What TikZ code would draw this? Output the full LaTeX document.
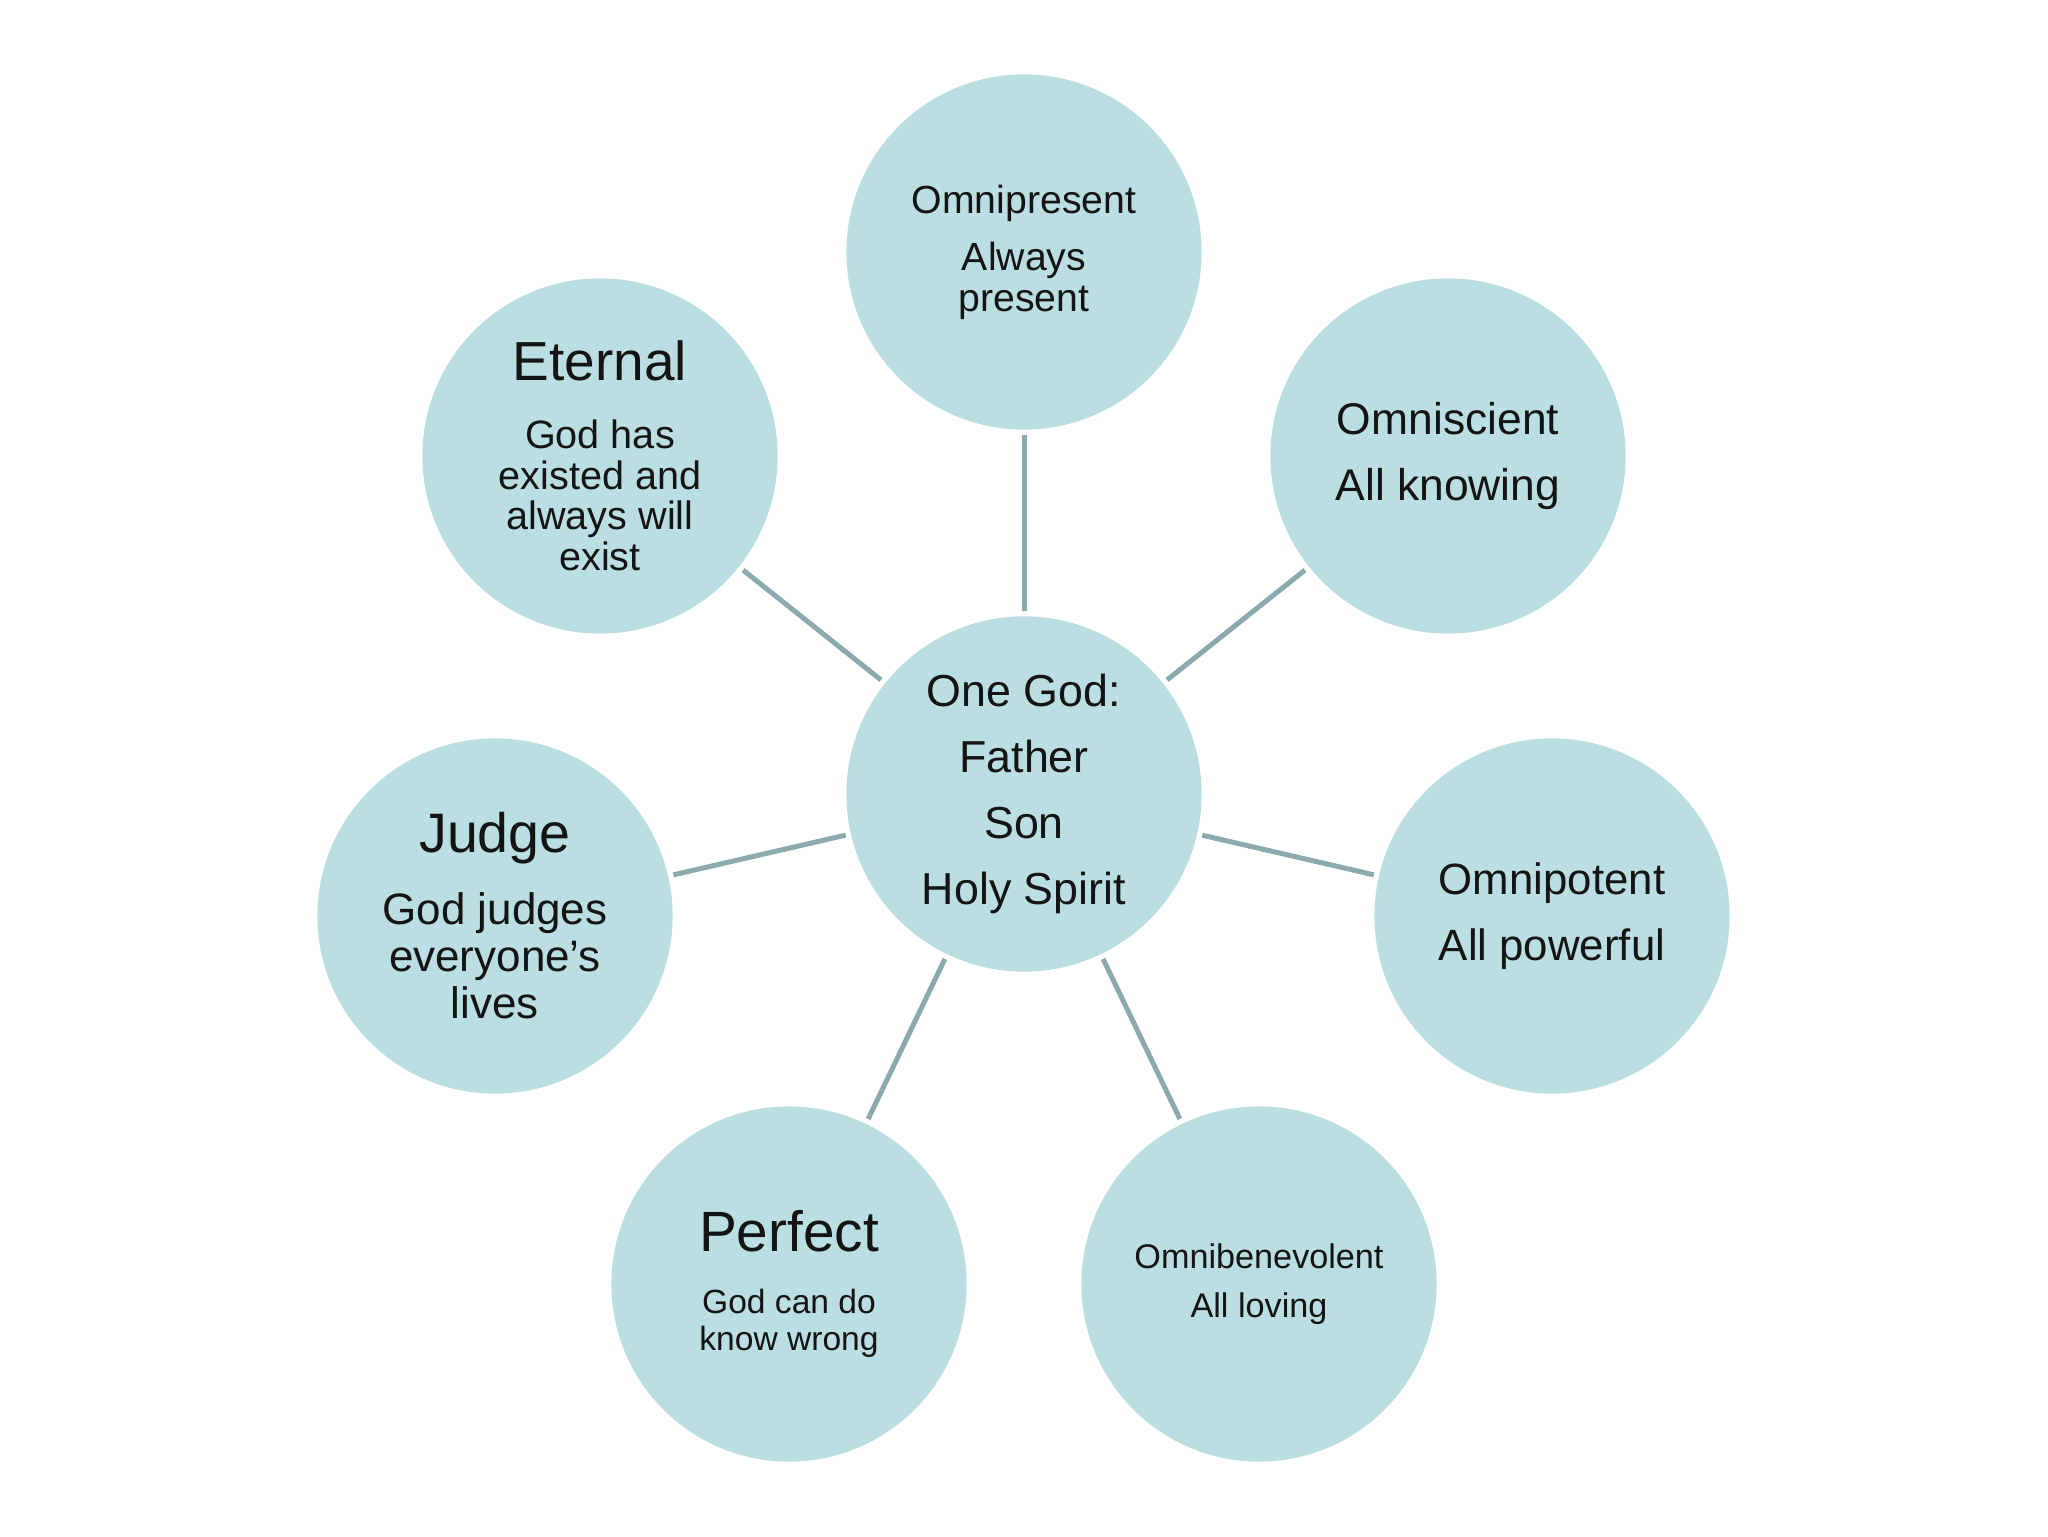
\documentclass[tikz,border=0pt]{standalone}
\usepackage{fontspec}
\setmainfont{Liberation Sans}
\definecolor{bubblefill}{RGB}{186,222,225}
\definecolor{linkcol}{RGB}{138,170,173}
\definecolor{txt}{RGB}{20,20,20}
\newcommand{\fs}[2]{\fontsize{#1}{#2}\selectfont}
\begin{document}
\begin{tikzpicture}[x=0.5pt,y=-0.5pt,
  bubble/.style={circle,fill=bubblefill,minimum size=177.6pt,inner sep=0pt,
    align=center,text=txt},
  link/.style={draw=linkcol,line width=2.5pt,shorten >=2.5pt,shorten <=2.5pt}]
\useasboundingbox (0,0) rectangle (2048,1536);
\fill[white] (0,0) rectangle (2048,1536);

\node[bubble,font=\fs{22.4pt}{33.1pt}] (god) at (1024,794)
  {One God:\\Father\\Son\\Holy Spirit};

\node[bubble,font=\fs{19.6pt}{20.25pt}] (pres) at (1024,252)
  {Omnipresent\\[8.5pt]Always\\present};

\node[bubble,font=\fs{19.8pt}{20.3pt}] (eternal) at (600,456)
  {{\fs{27.5pt}{30pt}Eternal}\\[13.6pt]God has\\existed and\\always will\\exist};

\node[bubble,font=\fs{22.2pt}{33pt}] (sci) at (1448,456)
  {Omniscient\\All knowing};

\node[bubble,font=\fs{22pt}{23.5pt}] (judge) at (495,916)
  {{\fs{27.8pt}{30pt}Judge}\\[12.5pt]God judges\\everyone’s\\lives};

\node[bubble,font=\fs{21.9pt}{33pt}] (pot) at (1552,916)
  {Omnipotent\\All powerful};

\node[bubble,font=\fs{16.8pt}{18.3pt}] (perfect) at (789,1284)
  {{\fs{28.4pt}{30pt}Perfect}\\[12.7pt]God can do\\know wrong};

\node[bubble,font=\fs{17.1pt}{24.8pt}] (benev) at (1259,1284)
  {Omnibenevolent\\All loving};

\foreach \n in {pres,eternal,sci,judge,pot,perfect,benev}
  \draw[link] (god) -- (\n);
\end{tikzpicture}
\end{document}
